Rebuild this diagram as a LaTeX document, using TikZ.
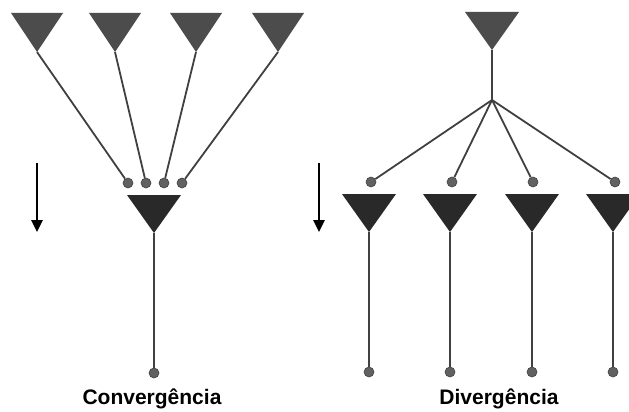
\documentclass[tikz,border=0pt]{standalone}
\usepackage{fontspec}
\setmainfont{Liberation Sans}
\usetikzlibrary{arrows.meta}
\definecolor{tritop}{gray}{0.30}
\definecolor{tribot}{gray}{0.16}
\definecolor{wirec}{gray}{0.25}
\definecolor{knobc}{gray}{0.38}
\begin{document}
\begin{tikzpicture}[x=1pt,y=-1pt,
  wire/.style={draw=wirec,line width=1.8pt},
  knob/.style={circle,fill=knobc,draw=wirec,line width=0.6pt,inner sep=0pt,minimum size=10pt},
  flow/.style={draw=black,line width=2.6pt,-{Triangle[length=12pt,width=11pt]}},
  caption/.style={font=\fontsize{21}{24}\selectfont\bfseries,text=black,inner sep=0pt}]
\clip (0,0) rectangle (629,412);
\fill[white] (0,0) rectangle (629,412);

% ---------- Convergence ----------
\foreach \i/\x in {1/37,2/115,3/196,4/278}{
  \coordinate (ca\i) at (\x,52);
  \fill[tritop] (\x-26,13) -- (\x+26,13) -- (ca\i) -- cycle;
}
\foreach \i/\x in {1/128,2/146,3/164,4/182}{
  \node[knob] (cd\i) at (\x,183) {};
}
\foreach \i in {1,...,4}{ \draw[wire] (ca\i) -- (cd\i); }
\coordinate (cb) at (154,233);
\fill[tribot] (127,195) -- (181,195) -- (cb) -- cycle;
\node[knob] (cbd) at (154,373) {};
\draw[wire] (cb) -- (cbd);
\coordinate (cars) at (37,163);
\coordinate (care) at (37,232);
\draw[flow] (cars) -- (care);
\node[caption] (clab) at (152,399) {Convergência};

% ---------- Divergence ----------
\coordinate (da) at (492,50);
\fill[tritop] (465,12) -- (519,12) -- (da) -- cycle;
\coordinate (dj) at (492,100);
\draw[wire] (da) -- (dj);
\foreach \i/\x in {1/371,2/452,3/533,4/615}{
  \node[knob] (dd\i) at (\x,182) {};
  \draw[wire] (dj) -- (dd\i);
}
\foreach \i/\x in {1/369,2/450,3/532,4/613}{
  \coordinate (db\i) at (\x,232);
  \fill[tribot] (\x-27,194) -- (\x+27,194) -- (db\i) -- cycle;
  \node[knob] (de\i) at (\x,372) {};
  \draw[wire] (db\i) -- (de\i);
}
\coordinate (dars) at (319,163);
\coordinate (dare) at (319,232);
\draw[flow] (dars) -- (dare);
\node[caption] (dlab) at (499,399) {Divergência};
\end{tikzpicture}
\end{document}
